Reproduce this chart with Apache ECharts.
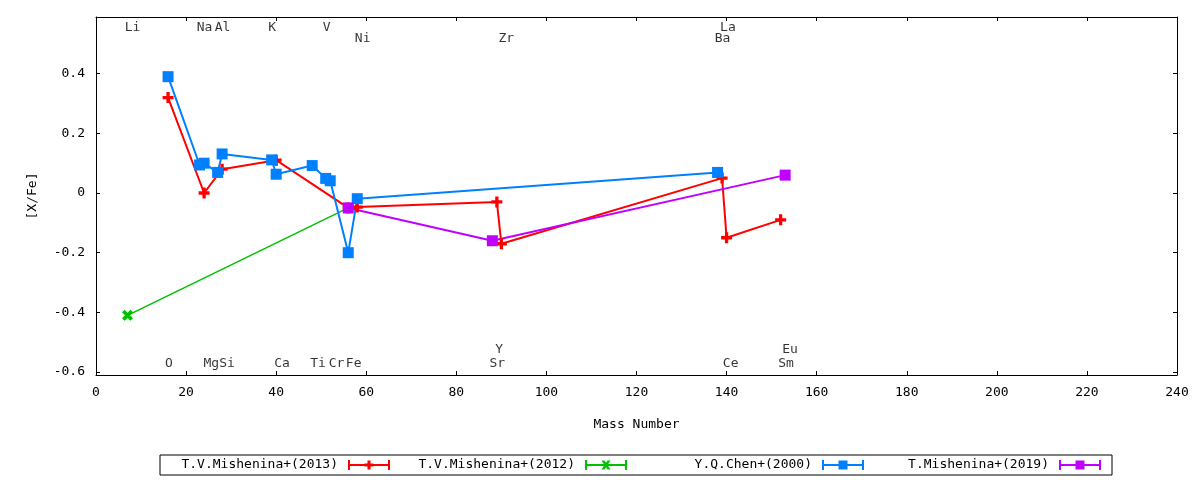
<!DOCTYPE html>
<html>
<head>
<meta charset="utf-8">
<title>[X/Fe] vs Mass Number</title>
<script src="https://cdn.jsdelivr.net/npm/echarts@6/dist/echarts.min.js"></script>
<style>
  html, body { margin: 0; padding: 0; background: #fff; }
  #root { width: 1200px; height: 480px; }
</style>
</head>
<body>
<div id="root"></div>
<script>
// [mass number, [X/Fe]]
var mishenina2013 = [[16, 0.32], [24, 0.0], [28, 0.08], [40, 0.11], [56, -0.05], [58, -0.047],
  [89, -0.03], [90, -0.17], [139, 0.05], [140, -0.15], [152, -0.09]];
var mishenina2012 = [[7, -0.41], [56, -0.05]];
var chen2000 = [[16, 0.39], [23, 0.094], [24, 0.10], [27, 0.069], [28, 0.131], [39, 0.111],
  [40, 0.063], [48, 0.092], [51, 0.049], [52, 0.041], [56, -0.20], [58, -0.019], [138, 0.069]];
var mishenina2019 = [[56, -0.05], [88, -0.16], [153, 0.06]];

var seriesNames = ['T.V.Mishenina+(2013)', 'T.V.Mishenina+(2012)', 'Y.Q.Chen+(2000)', 'T.Mishenina+(2019)'];

// element labels written inside the frame
var elementNames = ['Li', 'Na', 'Al', 'K', 'V', 'Ni', 'Zr', 'La', 'Ba',
  'O', 'Mg', 'Si', 'Ca', 'Ti', 'Cr', 'Fe', 'Y', 'Sr', 'Ce', 'Eu', 'Sm'];
var elementX = [8.1, 24.1, 28.1, 39.1, 51.2, 59.2, 91.1, 140.3, 139.1,
  16.2, 25.6, 29.1, 41.3, 49.3, 53.4, 57.2, 89.5, 89.1, 140.9, 154.1, 153.2];
var elementY = [0.555, 0.555, 0.555, 0.555, 0.555, 0.519, 0.519, 0.555, 0.519,
  -0.573, -0.573, -0.573, -0.573, -0.573, -0.573, -0.573, -0.526, -0.573, -0.573, -0.526, -0.573];

var yTicks = [-0.6, -0.4, -0.2, 0, 0.2, 0.4];

var FONT = 'DejaVu Sans Mono';
var plusPath = 'path://M3.5,0H6.5V3.5H10V6.5H6.5V10H3.5V6.5H0V3.5H3.5Z';

// legend samples: line with error-bar caps and the point type in the middle
var capLine = 'M0,0H2V10H0Z M40,0H42V10H40Z M0,4H42V6H0Z ';
var legendIcons = [
  'path://' + capLine + 'M19.5,0.5H22.5V9.5H19.5Z M16.5,3.5H25.5V6.5H16.5Z',
  'path://' + capLine + 'M16.5,0.5H19.5L25.5,9.5H22.5Z M22.5,0.5H25.5L19.5,9.5H16.5Z',
  'path://' + capLine + 'M16.5,0.5H25.5V9.5H16.5Z',
  'path://' + capLine + 'M16.5,0.5H25.5V9.5H16.5Z'
];

function lineSeries(name, data, color, symbol, size, rotate, width) {
  return {
    name: name,
    type: 'line',
    data: data,
    symbol: symbol,
    symbolSize: size,
    symbolRotate: rotate,
    lineStyle: { color: color, width: width },
    itemStyle: { color: color, borderWidth: 0 },
    emphasis: { disabled: true }
  };
}

var option = {
  animation: false,
  textStyle: { fontFamily: FONT, fontSize: 13, color: '#000' },
  grid: { left: 96, right: 23, top: 17, bottom: 105 },
  legend: {
    left: 160,
    top: 455,
    orient: 'horizontal',
    align: 'right',
    itemWidth: 42,
    itemHeight: 10,
    itemGap: 10,
    padding: [2, 11, 2, 3],
    borderColor: '#000',
    borderWidth: 1,
    symbolKeepAspect: false,
    itemStyle: { borderWidth: 0 },
    textStyle: { fontFamily: FONT, fontSize: 13, color: '#000', width: 175, lineHeight: 16, padding: [0, 5, 0, 0] },
    selectedMode: false,
    data: seriesNames.map(function(n, i) {
      return { name: n, icon: legendIcons[i] };
    })
  },
  xAxis: [
    {
      type: 'value',
      min: 0,
      max: 240,
      interval: 20,
      name: 'Mass Number',
      nameLocation: 'middle',
      nameGap: 43,
      nameTextStyle: { fontFamily: FONT, fontSize: 13, color: '#000' },
      axisLine: { show: true, onZero: false, lineStyle: { color: '#000', width: 1 } },
      axisTick: { show: true, inside: true, length: 4, lineStyle: { color: '#000' } },
      axisLabel: { margin: 11, color: '#000', fontFamily: FONT, fontSize: 13 },
      splitLine: { show: false }
    },
    {
      type: 'value',
      position: 'top',
      min: 0,
      max: 240,
      interval: 20,
      axisLine: { show: true, onZero: false, lineStyle: { color: '#000', width: 1 } },
      axisTick: { show: true, inside: true, length: 4, lineStyle: { color: '#000' } },
      axisLabel: { show: false },
      splitLine: { show: false }
    }
  ],
  yAxis: [
    {
      type: 'value',
      min: -0.61,
      max: 0.59,
      name: '[X/Fe]',
      nameLocation: 'middle',
      nameGap: 57,
      nameRotate: 90,
      nameTextStyle: { fontFamily: FONT, fontSize: 13, color: '#000' },
      axisLine: { show: true, onZero: false, lineStyle: { color: '#000', width: 1 } },
      axisTick: { show: true, inside: true, length: 4, customValues: yTicks, lineStyle: { color: '#000' } },
      axisLabel: {
        margin: 11,
        color: '#000',
        fontFamily: FONT,
        fontSize: 13,
        customValues: yTicks,
        formatter: function(v) {
          return String(Math.round(v * 10) / 10);
        }
      },
      splitLine: { show: false }
    },
    {
      type: 'value',
      position: 'right',
      min: -0.61,
      max: 0.59,
      axisLine: { show: true, onZero: false, lineStyle: { color: '#000', width: 1 } },
      axisTick: { show: true, inside: true, length: 4, customValues: yTicks, lineStyle: { color: '#000' } },
      axisLabel: { show: false },
      splitLine: { show: false }
    }
  ],
  series: [
    lineSeries(seriesNames[0], mishenina2013, '#ff0000', plusPath, 11, 0, 2),
    lineSeries(seriesNames[1], mishenina2012, '#00c000', plusPath, 12, 45, 1.5),
    lineSeries(seriesNames[2], chen2000, '#0080ff', 'rect', 11, 0, 2),
    lineSeries(seriesNames[3], mishenina2019, '#c000ff', 'rect', 11, 0, 2),
    {
      name: 'elements',
      type: 'scatter',
      silent: true,
      symbol: 'circle',
      symbolSize: 1,
      itemStyle: { color: 'rgba(0,0,0,0)' },
      z: 5,
      label: {
        show: true,
        position: 'inside',
        color: '#000',
        textBorderWidth: 0,
        fontFamily: FONT,
        fontSize: 13,
        formatter: function(p) { return p.name; }
      },
      data: elementNames.map(function(n, i) {
        return { name: n, value: [elementX[i], elementY[i]] };
      })
    }
  ]
};

var myChart = echarts.init(document.getElementById('root'));
myChart.setOption(option);
</script>
</body>
</html>
